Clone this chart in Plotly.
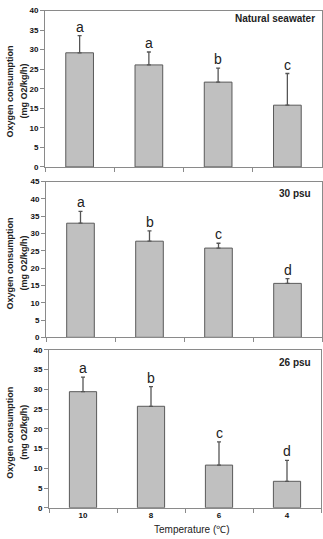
import plotly.graph_objects as go

temps = ["10", "8", "6", "4"]

nat_mean = [29.2, 26.1, 21.7, 15.8]
nat_err = [4.4, 3.3, 3.6, 8.1]
nat_letters = ["a", "a", "b", "c"]

psu30_mean = [33.0, 27.8, 25.8, 15.6]
psu30_err = [3.4, 3.0, 1.4, 1.4]
psu30_letters = ["a", "b", "c", "d"]

psu26_mean = [29.4, 25.7, 10.8, 6.7]
psu26_err = [3.7, 5.0, 5.9, 5.3]
psu26_letters = ["a", "b", "c", "d"]

panel_titles = ["Natural seawater", "30 psu", "26 psu"]
y_ranges = [[0, 40], [0, 45], [0, 40]]
y_dticks = [5, 5, 5]

W, H = 323, 539

def px_x(p):
    return p / W

def px_y(p):
    return 1 - p / H

# pixel geometry of each panel: (x0, x1, ytop, ybottom)
panels_px = [(45, 322, 6.7, 165.7), (46, 322, 180.7, 339), (49, 321, 351.7, 512.3)]
title_px = [(317, 15), (313, 193), (313, 365)]
ytitle_cy = [89, 264, 436]

means = [nat_mean, psu30_mean, psu26_mean]
errs = [nat_err, psu30_err, psu26_err]
letters = [nat_letters, psu30_letters, psu26_letters]

fig = go.Figure()
FONT = "Liberation Sans, Arial, sans-serif"
annotations = []

for i in range(3):
    xa = "x" if i == 0 else f"x{i+1}"
    ya = "y" if i == 0 else f"y{i+1}"
    fig.add_trace(go.Bar(
        x=temps, y=means[i], xaxis=xa, yaxis=ya, width=0.4,
        marker=dict(color="#c0c0c0", line=dict(color="#5a5a5a", width=1)),
        error_y=dict(type="data", symmetric=False, array=errs[i],
                     arrayminus=[0] * 4, color="#555555", thickness=1.3, width=2),
        showlegend=False,
    ))
    x0, x1, yt, yb = panels_px[i]
    xkey = "xaxis" if i == 0 else f"xaxis{i+1}"
    ykey = "yaxis" if i == 0 else f"yaxis{i+1}"
    fig.layout[xkey] = dict(
        domain=[px_x(x0), px_x(x1)], anchor=ya, type="category",
        categoryorder="array", categoryarray=temps,
        showline=True, linecolor="#8a8a8a", linewidth=1, mirror=True,
        ticks="outside", tickson="boundaries", ticklen=4, tickcolor="#8a8a8a",
        showticklabels=(i == 2), showgrid=False,
        tickfont=dict(family=FONT, size=8, color="#111111", weight="bold"),
        range=[-0.5, 3.5],
    )
    fig.layout[ykey] = dict(
        domain=[px_y(yb), px_y(yt)], anchor=xa, range=y_ranges[i],
        dtick=y_dticks[i], tick0=0,
        showline=True, linecolor="#8a8a8a", linewidth=1, mirror=True,
        ticks="outside", ticklen=4, tickcolor="#8a8a8a", showgrid=False,
        zeroline=False,
        tickfont=dict(family=FONT, size=8, color="#111111", weight="bold"),
    )
    # letters above error bars (category index positions)
    for j in range(len(temps)):
        annotations.append(dict(
            x=j, y=means[i][j] + errs[i][j], xref=xa, yref=ya,
            text=letters[i][j], showarrow=False, yanchor="bottom", yshift=-1,
            font=dict(family=FONT, size=14, color="#222222"),
        ))
    # panel titles
    tx, ty = title_px[i]
    annotations.append(dict(
        x=px_x(tx), y=px_y(ty), xref="paper", yref="paper",
        text=f"<b>{panel_titles[i]}</b>", showarrow=False,
        xanchor="right", yanchor="middle",
        font=dict(family=FONT, size=10, color="#222222"),
    ))
    # y title (two lines)
    annotations.append(dict(
        x=px_x(10), y=px_y(ytitle_cy[i]), xref="paper", yref="paper",
        text="<b>Oxygen consumption</b>", showarrow=False,
        textangle=-90, xanchor="center", yanchor="middle",
        font=dict(family=FONT, size=9, color="#222222"),
    ))
    annotations.append(dict(
        x=px_x(24), y=px_y(ytitle_cy[i]), xref="paper", yref="paper",
        text="<b>(mg O2/kg/h)</b>", showarrow=False,
        textangle=-90, xanchor="center", yanchor="middle",
        font=dict(family=FONT, size=9, color="#222222"),
    ))

annotations.append(dict(
    x=px_x(191.5), y=px_y(534), xref="paper", yref="paper",
    text="Temperature (℃)", showarrow=False, xanchor="center", yanchor="middle",
    font=dict(family=FONT, size=10, color="#222222"),
))

fig.update_layout(
    width=W, height=H, margin=dict(l=0, r=0, t=0, b=0),
    paper_bgcolor="white", plot_bgcolor="white",
    annotations=annotations, bargap=0.6,
)

fig.write_html("out.html")
